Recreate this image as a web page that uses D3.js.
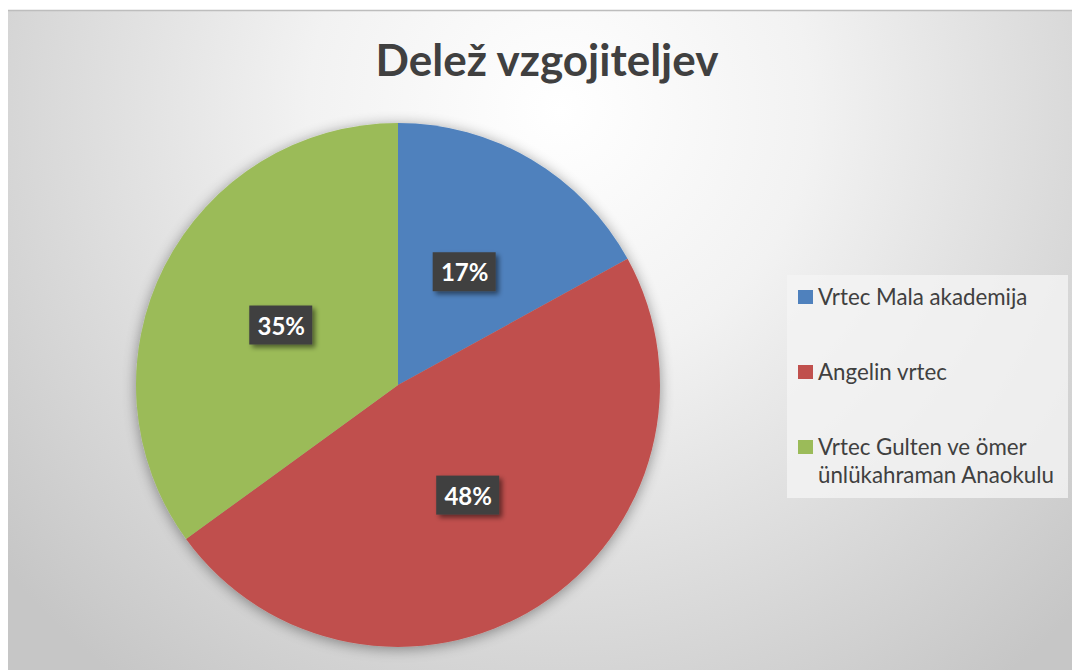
<!DOCTYPE html>
<html>
<head>
<meta charset="utf-8">
<script src="https://cdn.jsdelivr.net/npm/d3@7"></script>
<style>
  html, body { margin: 0; padding: 0; background: #fff; }
  svg { display: block; }
</style>
</head>
<body>
<div id="chart"></div>
<script>
var title = "Delež vzgojiteljev";
var categories = ["Vrtec Mala akademija", "Angelin vrtec", "Vrtec Gulten ve ömer ünlükahraman Anaokulu"];
var legendLines = [["Vrtec Mala akademija"], ["Angelin vrtec"], ["Vrtec Gulten ve ömer", "ünlükahraman Anaokulu"]];
var values = [17, 48, 35];
var colors = ["#4f81bd", "#c0504d", "#9bbb59"];

var width = 1072, height = 670;
var cx = 398, cy = 385, radius = 262;

var svg = d3.select("#chart").append("svg")
  .attr("width", width)
  .attr("height", height);

var defs = svg.append("defs");
var bg = defs.append("radialGradient")
  .attr("id", "bg")
  .attr("gradientUnits", "userSpaceOnUse")
  .attr("cx", 560).attr("cy", 110).attr("r", 720);
bg.append("stop").attr("offset", "0%").attr("stop-color", "#ffffff");
bg.append("stop").attr("offset", "35%").attr("stop-color", "#f2f2f2");
bg.append("stop").attr("offset", "100%").attr("stop-color", "#c6c6c6");

var shadow = defs.append("filter").attr("id", "pieShadow")
  .attr("x", "-20%").attr("y", "-20%").attr("width", "140%").attr("height", "140%");
shadow.append("feGaussianBlur").attr("in", "SourceAlpha").attr("stdDeviation", 7);
shadow.append("feOffset").attr("dx", 0).attr("dy", 2).attr("result", "blur");
shadow.append("feComponentTransfer").append("feFuncA").attr("type", "linear").attr("slope", 0.4);
var m1 = shadow.append("feMerge");
m1.append("feMergeNode");
m1.append("feMergeNode").attr("in", "SourceGraphic");

var boxShadow = defs.append("filter").attr("id", "boxShadow")
  .attr("x", "-30%").attr("y", "-30%").attr("width", "160%").attr("height", "160%");
boxShadow.append("feGaussianBlur").attr("in", "SourceAlpha").attr("stdDeviation", 2.5);
boxShadow.append("feOffset").attr("dx", 3).attr("dy", 3);
boxShadow.append("feComponentTransfer").append("feFuncA").attr("type", "linear").attr("slope", 0.5);
var m2 = boxShadow.append("feMerge");
m2.append("feMergeNode");
m2.append("feMergeNode").attr("in", "SourceGraphic");

// chart area
svg.append("rect")
  .attr("x", 8).attr("y", 10)
  .attr("width", width - 8).attr("height", height - 10)
  .attr("fill", "url(#bg)");
svg.append("line")
  .attr("x1", 8).attr("x2", width).attr("y1", 10.5).attr("y2", 10.5)
  .attr("stroke", "#bdbdbd").attr("stroke-width", 1.5);

svg.append("text")
  .attr("x", 547).attr("y", 76)
  .attr("text-anchor", "middle")
  .attr("font-family", "Lato, 'Open Sans', sans-serif")
  .attr("font-weight", "bold")
  .attr("font-size", 44)
  .attr("fill", "#404040")
  .text(title);

var pie = d3.pie().sort(null).value(function(d) { return d; });
var arcs = pie(values);
var arc = d3.arc().innerRadius(0).outerRadius(radius);
var labelArc = d3.arc().innerRadius(radius * 0.5).outerRadius(radius * 0.5);

var g = svg.append("g").attr("transform", "translate(" + cx + "," + cy + ")");

g.append("g").attr("filter", "url(#pieShadow)")
  .selectAll("path")
  .data(arcs)
  .enter()
  .append("path")
    .attr("d", arc)
    .attr("fill", function(d, i) { return colors[i]; });

var total = d3.sum(values);
var labels = g.selectAll("g.lbl")
  .data(arcs)
  .enter()
  .append("g")
    .attr("class", "lbl")
    .attr("transform", function(d) { var c = labelArc.centroid(d); return "translate(" + c[0] + "," + c[1] + ")"; });

labels.append("rect")
  .attr("x", -32).attr("y", -20)
  .attr("width", 63).attr("height", 39)
  .attr("fill", "#404040")
  .attr("filter", "url(#boxShadow)");

labels.append("text")
  .attr("text-anchor", "middle")
  .attr("y", 9)
  .attr("font-family", "Lato, 'Open Sans', sans-serif")
  .attr("font-weight", "bold")
  .attr("font-size", 24)
  .attr("fill", "#ffffff")
  .text(function(d) { return Math.round(d.data / total * 100) + "%"; });

// legend
var legend = svg.append("g");
legend.append("rect")
  .attr("x", 787).attr("y", 275)
  .attr("width", 281).attr("height", 223)
  .attr("fill", "#f4f4f4").attr("fill-opacity", 0.8);

var itemY = d3.scalePoint().domain(categories).range([297, 447]);

var items = legend.selectAll("g.item")
  .data(categories)
  .enter()
  .append("g")
    .attr("class", "item")
    .attr("transform", function(d) { return "translate(798," + itemY(d) + ")"; });

items.append("rect")
  .attr("x", 0).attr("y", -7)
  .attr("width", 15).attr("height", 14)
  .attr("fill", function(d, i) { return colors[i]; });

items.append("text")
  .attr("x", 20).attr("y", 8)
  .attr("font-family", "Lato, 'Open Sans', sans-serif")
  .attr("font-size", 22.3)
  .attr("fill", "#404040")
  .selectAll("tspan")
  .data(function(d, i) { return legendLines[i]; })
  .enter()
  .append("tspan")
    .attr("x", 20)
    .attr("dy", function(d, j) { return j === 0 ? 0 : 28; })
    .text(function(d) { return d; });
</script>
</body>
</html>
